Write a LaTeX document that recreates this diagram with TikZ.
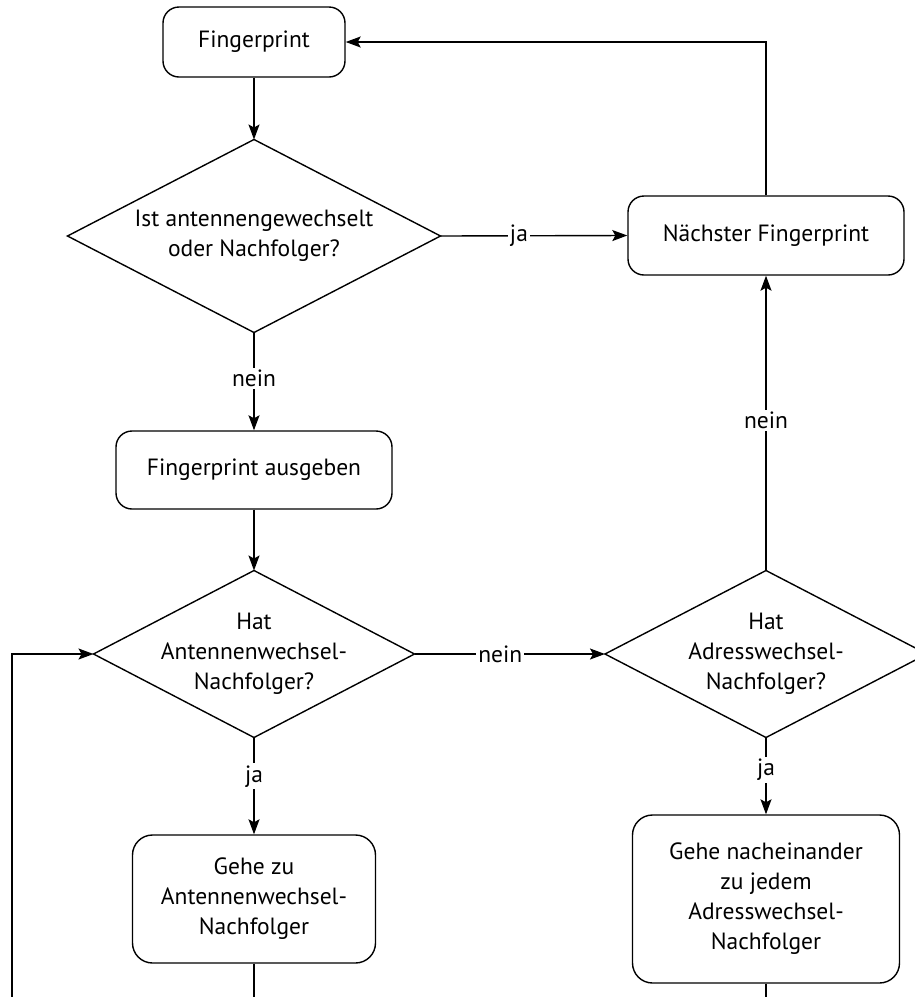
\documentclass[tikz,border=0pt]{standalone}
\usepackage{fontspec}
\setmainfont{PT Sans}
\usetikzlibrary{arrows.meta,shapes.geometric}
\begin{document}
\begin{tikzpicture}[x=1pt,y=-1pt,
  every node/.style={font=\fontsize{23.5}{30}\selectfont, align=center},
  proc/.style={draw, line width=1.4pt, rounded corners=16pt, inner sep=0pt},
  decision/.style={draw, line width=1.4pt, diamond, inner sep=0pt, outer sep=0pt},
  flow/.style={line width=1.4pt, -{Stealth[length=15pt,width=11pt,inset=3pt]}},
  plain/.style={line width=1.4pt},
  lbl/.style={fill=white, inner sep=2pt}]
\useasboundingbox (0,0) rectangle (915,997);
\clip (0,0) rectangle (915,997);

% process boxes
\node[proc, minimum width=182pt, minimum height=70pt] (fp) at (254,42) {Fingerprint};
\node[proc, minimum width=276pt, minimum height=79pt] (next) at (766,235.5) {Nächster Fingerprint};
\node[proc, minimum width=276pt, minimum height=78pt] (out) at (254,470) {Fingerprint ausgeben};
\node[proc, minimum width=243pt, minimum height=128pt, rounded corners=20pt] (goant) at (254,899)
  {Gehe zu\\Antennenwechsel-\\Nachfolger};
\node[proc, minimum width=267pt, minimum height=168pt, rounded corners=20pt] (goadr) at (766,899)
  {Gehe nacheinander\\zu jedem\\Adresswechsel-\\Nachfolger};

% decisions: the outline is sized explicitly, the question sits on top of it
\node[decision, minimum width=373pt, minimum height=193pt] (d1) at (254,236) {};
\node (d1text) at (d1.center) {Ist antennengewechselt\\oder Nachfolger?};
\node[decision, minimum width=321pt, minimum height=167pt] (d2) at (254,654) {};
\node (d2text) at (d2.center) {Hat\\Antennenwechsel-\\Nachfolger?};
\node[decision, minimum width=322pt, minimum height=167pt] (d3) at (766,654) {};
\node (d3text) at (d3.center) {Hat\\Adresswechsel-\\Nachfolger?};

% loose ends leaving the drawing area
\coordinate (loopin) at (12,1010);
\coordinate (antout) at (254,1010);
\coordinate (adrout) at (766,1010);

% connectors
\draw[flow] (fp.south) -- (d1.north);
\draw[flow] (d1.east) -- node[lbl, pos=0.42] {ja} (next.west);
\draw[flow] (d1.south) -- node[lbl, pos=0.47] {nein} (out.north);
\draw[flow] (next.north) |- (fp.east);
\draw[flow] (out.south) -- (d2.north);
\draw[flow] (d2.east) -- node[lbl, pos=0.45] {nein} (d3.west);
\draw[flow] (d3.north) -- node[lbl, pos=0.51] {nein} (next.south);
\draw[flow] (d2.south) -- node[lbl, pos=0.40] {ja} (goant.north);
\draw[flow] (d3.south) -- node[lbl, pos=0.42] {ja} (goadr.north);
\draw[flow] (loopin) |- (d2.west);
\draw[plain] (goant.south) -- (antout);
\draw[plain] (goadr.south) -- (adrout);
\end{tikzpicture}
\end{document}
